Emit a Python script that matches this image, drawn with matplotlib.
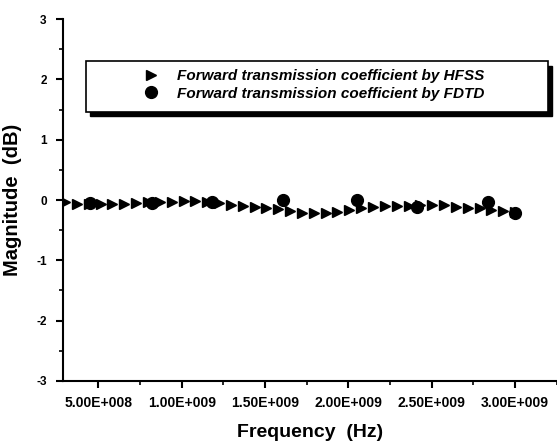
import matplotlib
matplotlib.use("Agg")
import matplotlib.pyplot as plt
from matplotlib.patches import Rectangle
import numpy as np

plt.rcParams['font.family'] = ['Liberation Sans', 'DejaVu Sans']
plt.rcParams['font.weight'] = 'bold'

# HFSS sweep (MHz) and magnitude (dB)
hfss_mhz = [300, 371, 442, 513, 584, 655, 726, 797, 868, 939,
            1011, 1082, 1153, 1224, 1295, 1366, 1437, 1508, 1579, 1650,
            1721, 1792, 1863, 1934, 2005, 2076, 2147, 2218, 2289, 2361,
            2432, 2503, 2574, 2645, 2716, 2787, 2858, 2929, 3000]
hfss_db = [-0.04, -0.06, -0.065, -0.07, -0.07, -0.06, -0.045, -0.04, -0.04, -0.025,
           -0.01, -0.02, -0.03, -0.05, -0.075, -0.10, -0.12, -0.14, -0.15, -0.18,
           -0.21, -0.22, -0.215, -0.20, -0.17, -0.14, -0.12, -0.105, -0.095, -0.095,
           -0.09, -0.08, -0.09, -0.11, -0.125, -0.14, -0.17, -0.18, -0.20]

# FDTD points (MHz) and magnitude (dB)
fdtd_mhz = [450, 820, 1180, 1610, 2050, 2410, 2840, 3000]
fdtd_db = [-0.05, -0.05, -0.03, 0.0, 0.0, -0.12, -0.04, -0.22]

xticks = [5e8, 1e9, 1.5e9, 2e9, 2.5e9, 3e9]
xtick_labels = ["5.00E+008", "1.00E+009", "1.50E+009", "2.00E+009", "2.50E+009", "3.00E+009"]
yticks = [-3, -2, -1, 0, 1, 2, 3]

fig = plt.figure(figsize=(5.57, 4.43), dpi=100)
ax = fig.add_axes([0.1137, 0.14, 0.886, 0.817])

ax.plot(np.array(hfss_mhz) * 1e6, hfss_db, linestyle='none', marker='>',
        markersize=7, color='black', label='Forward transmission coefficient by HFSS')
ax.plot(np.array(fdtd_mhz) * 1e6, fdtd_db, linestyle='none', marker='o',
        markersize=8.5, color='black', label='Forward transmission coefficient by FDTD')

ax.set_xlim(2.9e8, 3.25e9)
ax.set_ylim(-3, 3)
ax.set_xticks(xticks)
ax.set_xticklabels(xtick_labels, fontsize=10, fontweight='bold')
ax.set_xticks([7.5e8, 1.25e9, 1.75e9, 2.25e9, 2.75e9, 3.25e9], minor=True)
ax.set_yticks(yticks)
ax.set_yticklabels([str(v) for v in yticks], fontsize=8.5, fontweight='bold')
ax.set_yticks(np.arange(-2.5, 3, 1.0), minor=True)

ax.spines['top'].set_visible(False)
ax.spines['right'].set_visible(False)
ax.spines['left'].set_linewidth(1.5)
ax.spines['bottom'].set_linewidth(1.5)
ax.tick_params(which='major', direction='out', length=5, width=1.5)
ax.tick_params(which='minor', direction='out', length=3, width=1.2)
ax.tick_params(axis='y', which='major', pad=7)
ax.tick_params(axis='x', which='major', pad=6)

ax.set_xlabel('Frequency  (Hz)', fontsize=14, fontweight='bold', labelpad=10)
ax.set_ylabel('Magnitude  (dB)', fontsize=14.5, fontweight='bold', labelpad=10)

# boxed legend with a solid drop shadow
x0, x1 = 0.046, 0.982
y0, y1 = 0.743, 0.883
dx, dy = 0.0085, 0.012
ax.add_patch(Rectangle((x0 + dx, y0 - dy), x1 - x0, y1 - y0, transform=ax.transAxes,
                       facecolor='black', edgecolor='black', zorder=4, clip_on=False))
ax.add_patch(Rectangle((x0, y0), x1 - x0, y1 - y0, transform=ax.transAxes,
                       facecolor='white', edgecolor='black', linewidth=1.2, zorder=5,
                       clip_on=False))
leg = ax.legend(loc='upper left', bbox_to_anchor=(0.163, 0.862), frameon=False,
                borderpad=0, borderaxespad=0, handlelength=1.0, handletextpad=1.2,
                labelspacing=0.25, prop={'size': 11, 'weight': 'bold', 'style': 'italic'})
leg.set_zorder(6)

fig.savefig('out.png', dpi=100)
